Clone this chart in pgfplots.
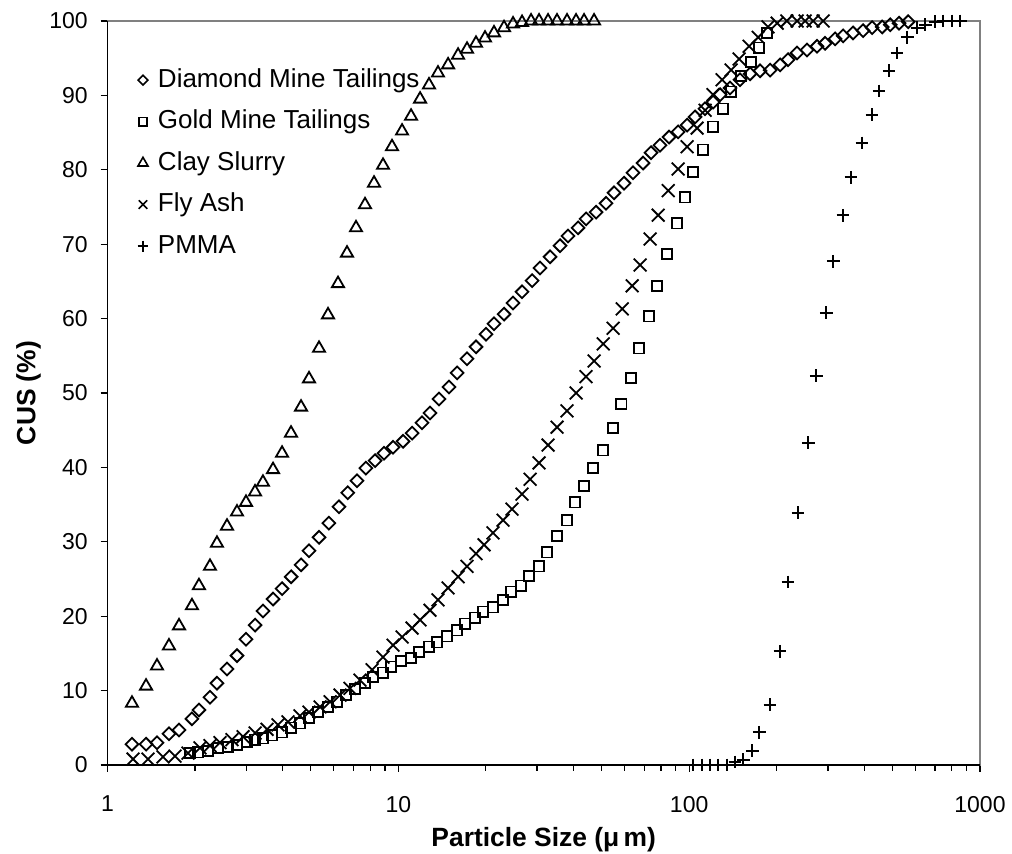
\documentclass[border=0pt]{standalone}
\usepackage{fontspec}
\setmainfont{Liberation Sans}
\usepackage{pgfplots}
\pgfplotsset{compat=1.18}

\begin{document}
\begin{tikzpicture}
\path[use as bounding box] (-53.75pt,-44.5pt) rectangle (452.25pt,382.5pt);
\begin{axis}[
  at={(0,0)}, anchor=south west,
  width=436.25pt, height=372pt, scale only axis,
  xmode=log, xmin=1, xmax=1000, ymin=0, ymax=100,
  xtick={1,10,100,1000}, xticklabels={1,10,100,1000},
  minor xtick={},
  ytick={0,10,...,100},
  tick pos=left, tick align=outside,
  major tick length=3.5pt,
  tick style={black, line width=0.6pt},
  axis line style={draw=black!50, line width=0.6pt},
  /pgf/number format/assume math mode=true,
  tick label style={font=\fontsize{11.5}{13}\selectfont},
  xticklabel style={yshift=-8.5pt},
  yticklabel style={xshift=-2.9pt},
  xlabel={\textbf{Particle Size (μ\,m)}},
  ylabel={\textbf{CUS (\%)}},
  label style={font=\fontsize{13.2}{15}\selectfont},
  xlabel style={at={(axis description cs:0.5,0)}, anchor=base, yshift=-41pt},
  ylabel style={at={(axis description cs:0,0.5)}, anchor=base, yshift=36pt},
  clip=false,
  legend cell align=left,
  legend image code/.code={
    \path[draw=none, fill=none] (0pt,-2pt) rectangle (6pt,2pt);
    \draw[#1] plot coordinates {(3pt,0pt)};
  },
  legend style={at={(0.0338,0.936)}, anchor=north west, draw=none, fill=none,
    inner sep=0pt, outer sep=0pt, row sep=9.25pt,
    font=\fontsize{13}{15}\selectfont,
    nodes={inner sep=0pt, text height=9.3pt, text depth=2.2pt},
    /tikz/every odd column/.append style={column sep=4.5pt}},
  after end axis/.code={
    \draw[black, line width=0.6pt] (rel axis cs:0,1) -- (rel axis cs:0,0) -- (rel axis cs:1,0);
  },
]
% Diamond Mine Tailings
\addplot[only marks, mark=square, mark size=2.25pt, line width=0.9pt,
  mark options={rotate=45}, legend image post style={mark size=1.7pt, line width=0.8pt}]
  coordinates {(1.214,2.8)(1.357,2.8)(1.480,3.0)(1.627,4.2)(1.762,4.7)(1.952,6.2)(2.063,7.4)(2.251,9.1)(2.379,11.0)(2.576,12.9)(2.788,14.7)(2.994,16.9)(3.216,18.8)(3.424,20.7)(3.709,22.3)(3.983,23.7)(4.28,25.3)(4.629,26.9)(4.931,28.8)(5.338,30.6)(5.77,32.5)(6.25,34.7)(6.70,36.6)(7.21,38.2)(7.74,39.9)(8.32,40.9)(8.93,41.9)(9.59,42.7)(10.38,43.5)(11.15,44.6)(12.06,46.0)(12.85,47.3)(13.80,49.2)(14.94,50.8)(15.92,52.7)(17.23,54.6)(18.50,56.2)(20.03,57.9)(21.33,59.3)(23.09,60.6)(24.80,62.1)(26.63,63.6)(28.83,65.1)(30.72,66.8)(33.24,68.3)(35.98,69.8)(38.33,71.1)(41.50,72.2)(44.21,73.4)(47.86,74.3)(51.80,75.5)(55.16,76.9)(59.72,78.2)(64.14,79.6)(69.41,80.9)(73.96,82.3)(79.43,83.3)(85.3,84.4)(91.6,85.1)(98.4,86.0)(104.8,87.1)(113.4,88.2)(120.9,89.1)(127.7,90.1)(138.2,91.0)(149.6,92.1)(162.0,92.9)(175.3,93.3)(189.8,93.4)(205.4,94.1)(218.8,94.8)(235.0,95.7)(254.3,96.1)(275.3,96.6)(293.3,97.0)(317.5,97.6)(338.2,98.0)(366.0,98.4)(396.3,98.7)(425.6,99.1)(461.0,99.2)(491.2,99.5)(527.0,99.7)(566.2,99.9)};
% Gold Mine Tailings
\addplot[only marks, mark=square, mark size=2.6pt, line width=0.9pt,
  legend image post style={mark size=2.1pt, line width=0.8pt}]
  coordinates {(1.921,1.6)(2.048,1.7)(2.216,1.9)(2.399,2.3)(2.597,2.4)(2.788,2.7)(3.018,3.1)(3.216,3.4)(3.424,3.6)(3.679,4.0)(3.983,4.4)(4.276,5.0)(4.592,5.6)(4.931,6.3)(5.296,7.1)(5.732,7.8)(6.155,8.5)(6.609,9.4)(7.098,10.2)(7.683,11.0)(8.185,11.8)(8.860,12.4)(9.438,13.2)(10.22,14.0)(11.06,14.4)(11.78,15.2)(12.75,15.9)(13.59,16.5)(14.71,17.3)(15.92,18.1)(16.96,19.0)(18.35,19.8)(19.56,20.6)(21.17,21.2)(22.91,22.2)(24.41,23.3)(26.42,24.1)(28.14,25.4)(30.47,26.7)(32.45,28.6)(35.13,30.8)(38.03,32.9)(40.52,35.3)(43.55,37.5)(46.77,39.9)(50.62,42.3)(54.79,45.3)(58.39,48.5)(63.14,52.0)(67.25,56.0)(72.80,60.3)(77.55,64.4)(83.95,68.7)(90.87,72.8)(96.80,76.3)(103.1,79.7)(111.6,82.7)(120.8,85.8)(130.8,88.2)(139.4,90.5)(150.8,92.6)(163.4,94.5)(174.1,96.4)(185.4,98.4)};
% Clay Slurry
\addplot[only marks, mark=triangle, mark size=3.5pt, line width=0.9pt,
  legend image post style={mark size=2.9pt, line width=0.8pt}]
  coordinates {(1.214,8.3)(1.357,10.6)(1.480,13.3)(1.627,16.0)(1.762,18.7)(1.952,21.4)(2.063,24.1)(2.251,26.7)(2.379,29.8)(2.576,32.1)(2.788,34.0)(2.994,35.3)(3.216,36.7)(3.424,38.0)(3.709,39.7)(3.983,41.9)(4.276,44.6)(4.629,48.1)(4.931,51.9)(5.338,56.0)(5.732,60.5)(6.203,64.7)(6.662,68.8)(7.154,72.2)(7.683,75.3)(8.250,78.2)(8.860,80.6)(9.513,83.1)(10.30,85.2)(11.06,87.2)(11.88,89.5)(12.75,91.4)(13.69,93.0)(14.83,94.1)(16.05,95.4)(17.23,96.2)(18.50,97.0)(19.87,97.7)(21.33,98.4)(23.09,99.1)(24.80,99.6)(26.63,99.8)(28.60,100)(30.47,100)(32.72,100)(35.13,100)(38.03,100)(40.84,100)(43.51,100)(47.10,100)};
% Fly Ash
\addplot[only marks, mark=x, mark size=4.5pt, line width=0.9pt,
  legend image post style={mark size=3.0pt, line width=0.8pt}]
  coordinates {(1.224,0.8)(1.378,0.8)(1.552,1.1)(1.707,1.2)(1.891,1.6)(2.080,2.3)(2.251,2.6)(2.437,3.0)(2.680,3.4)(2.924,3.8)(3.216,4.3)(3.536,4.8)(3.858,5.4)(4.175,5.8)(4.592,6.6)(4.931,7.1)(5.38,7.8)(5.824,8.5)(6.304,9.4)(6.823,10.3)(7.384,11.4)(8.121,12.8)(8.860,14.5)(9.59,16.1)(10.30,17.2)(11.15,18.4)(11.88,19.5)(12.85,20.8)(13.69,22.2)(14.83,23.8)(16.05,25.3)(17.23,26.7)(18.50,28.4)(19.71,29.6)(21.17,31.2)(22.91,32.9)(24.60,34.4)(26.63,36.4)(28.38,38.4)(30.47,40.6)(32.72,43.0)(35.13,45.4)(38.03,47.6)(40.84,50.0)(44.21,52.2)(47.10,54.3)(50.62,56.6)(54.79,58.7)(58.85,61.3)(63.68,64.4)(67.86,67.2)(73.43,70.7)(78.25,73.9)(84.70,77.2)(91.6,80.1)(98.4,83.1)(106.5,85.6)(113.4,88.0)(120.8,90.1)(129.8,92.1)(139.4,93.4)(148.5,94.9)(160.7,96.6)(172.7,97.8)(186.7,99.2)(200.8,99.7)(216.6,100)(235.0,100)(250.3,100)(266.7,100)(288.9,100)};
% PMMA
\addplot[only marks, mark=+, mark size=3.2pt, line width=0.9pt,
  legend image post style={mark size=2.7pt, line width=0.8pt}]
  coordinates {(103.1,0)(110.8,0)(118.0,0)(125.8,0)(135.1,0)(143.8,0.4)(153.4,0.7)(164.7,1.9)(174.1,4.4)(189.8,8.1)(205.4,15.3)(218.8,24.6)(236.9,33.9)(256.6,43.3)(273.4,52.3)(295.9,60.8)(312.8,67.7)(338.2,73.9)(360.3,79.0)(393.2,83.6)(425.6,87.4)(449.8,90.6)(486.8,93.3)(518.6,95.7)(562.0,97.8)(608.1,99.1)(648.1,99.5)(701.4,99.9)(746.8,100)(802.4,100)(855.1,100)};
\legend{Diamond Mine Tailings, Gold Mine Tailings, Clay Slurry, Fly Ash, PMMA}
\end{axis}
\end{tikzpicture}
\end{document}
